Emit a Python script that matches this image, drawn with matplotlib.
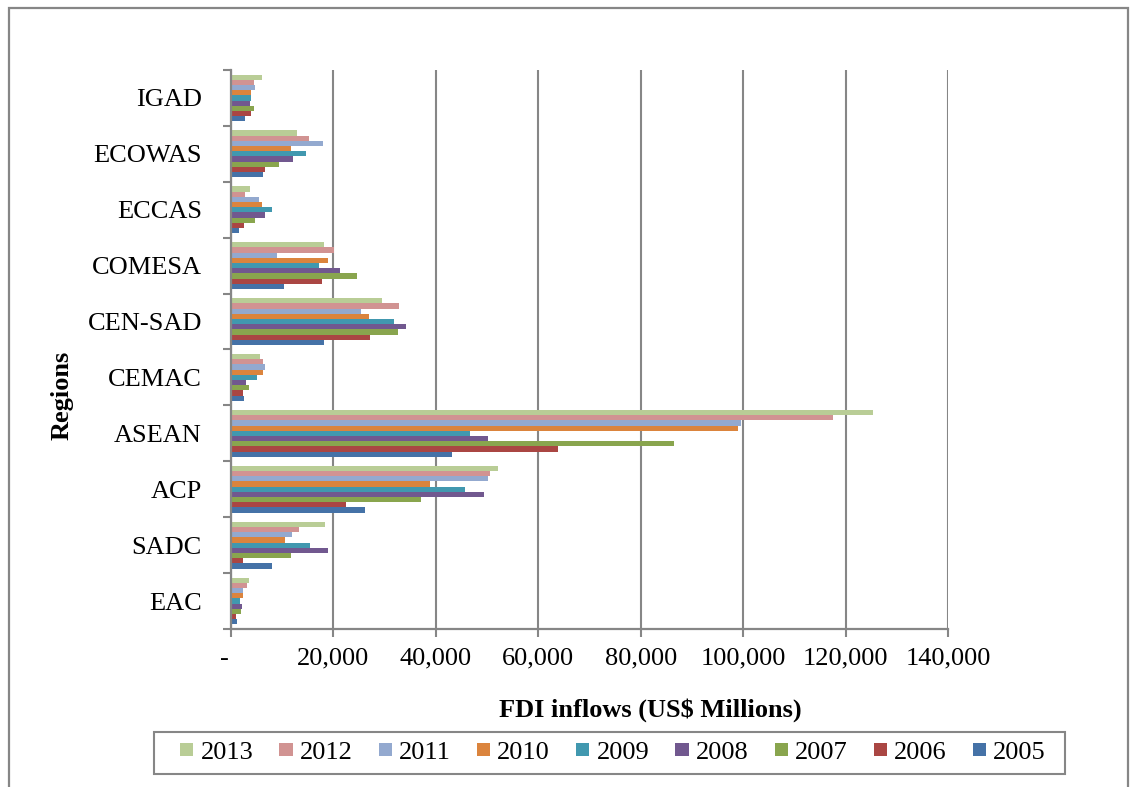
import numpy as np
import matplotlib
matplotlib.use("Agg")
import matplotlib.pyplot as plt
from matplotlib.patches import Rectangle
from matplotlib.ticker import FuncFormatter

plt.rcParams['font.family'] = ['Liberation Serif', 'DejaVu Serif']

# Data (US$ millions), regions from bottom to top
regions = ['EAC', 'SADC', 'ACP', 'ASEAN', 'CEMAC', 'CEN-SAD', 'COMESA', 'ECCAS', 'ECOWAS', 'IGAD']
years = ['2005', '2006', '2007', '2008', '2009', '2010', '2011', '2012', '2013']

fdi_2005 = [1110, 8070, 26170, 43070, 2560, 18170, 10300, 1510, 6230, 2820]
fdi_2006 = [980, 2360, 22430, 63800, 2300, 27220, 17710, 2620, 6560, 3870]
fdi_2007 = [1970, 11800, 37150, 86540, 3540, 32600, 24670, 4660, 9300, 4400]
fdi_2008 = [2160, 19020, 49340, 50210, 2950, 34110, 21250, 6560, 12140, 3800]
fdi_2009 = [1840, 15480, 45770, 46640, 5050, 31820, 17120, 8070, 14700, 3940]
fdi_2010 = [2430, 10630, 38800, 99000, 6230, 27030, 18900, 6040, 11800, 4000]
fdi_2011 = [2430, 11940, 50130, 99520, 6560, 25320, 9050, 5380, 18040, 4660]
fdi_2012 = [3210, 13320, 50480, 117450, 6300, 32730, 20070, 2820, 15150, 4400]
fdi_2013 = [3480, 18370, 52220, 125400, 5710, 29520, 18170, 3740, 12920, 5970]

series = [fdi_2005, fdi_2006, fdi_2007, fdi_2008, fdi_2009,
          fdi_2010, fdi_2011, fdi_2012, fdi_2013]
colors = ['#4572A7', '#AA4643', '#89A54E', '#71588F', '#4198AF',
          '#DB843D', '#93A9CF', '#D19392', '#B9CD96']

gray = '#868686'
fs = 19

fig = plt.figure(figsize=(11.36, 7.87), dpi=100)
ax = fig.add_axes([231 / 1136, 1 - 629 / 787, (948 - 231) / 1136, (629 - 70) / 787])

# outer chart border (bottom edge runs off the picture)
fig.patches.append(Rectangle((9 / 1136, -0.05), (1128 - 9) / 1136, 1.05 - 8 / 787,
                             transform=fig.transFigure, fill=False,
                             edgecolor=gray, linewidth=1.6))

y = np.arange(len(regions))
h = 0.093
bars = []
for i, vals in enumerate(series):
    b = ax.barh(y + (i - 4) * h, vals, height=h, color=colors[i],
                edgecolor='none', zorder=3)
    bars.append(b)

ax.set_xlim(0, 140000)
ax.set_ylim(-0.5, len(regions) - 0.5)
ax.set_xticks(np.arange(0, 140001, 20000))
ax.xaxis.set_major_formatter(FuncFormatter(lambda v, p: '-  ' if v == 0 else f'{int(v):,}'))
ax.grid(axis='x', color=gray, linewidth=1.5, zorder=0)

ax.set_yticks(y)
ax.set_yticklabels(regions)
ax.set_yticks(np.arange(-0.5, len(regions), 1), minor=True)
ax.tick_params(axis='y', which='major', length=0, pad=21, labelsize=fs)
ax.tick_params(axis='y', which='minor', length=5.5, width=1.5, color=gray)
ax.tick_params(axis='x', length=5.5, width=1.5, color=gray, pad=8, labelsize=fs)

for s in ['top', 'right']:
    ax.spines[s].set_visible(False)
for s in ['left', 'bottom']:
    ax.spines[s].set_color(gray)
    ax.spines[s].set_linewidth(1.6)
    ax.spines[s].set_zorder(4)

fig.text(650 / 1136, 1 - 710 / 787, 'FDI inflows (US$ Millions)', ha='center', va='center',
         fontsize=fs, fontweight='bold')
fig.text(62 / 1136, 1 - 395 / 787, 'Regions', ha='center', va='center', rotation=90,
         fontsize=fs, fontweight='bold')

# legend box drawn separately so its padding matches
fig.patches.append(Rectangle((154 / 1136, 1 - 774 / 787), (1065 - 154) / 1136, 42 / 787,
                             transform=fig.transFigure, fill=False,
                             edgecolor=gray, linewidth=1.5))
leg = fig.legend(bars[::-1], years[::-1], loc='center', ncol=9,
                 bbox_to_anchor=(613 / 1136, 1 - 753 / 787),
                 fontsize=fs, frameon=False,
                 handlelength=0.5, handleheight=0.4, handletextpad=0.27,
                 columnspacing=0.99, borderpad=0.2, borderaxespad=0)

fig.savefig('out.png', dpi=100)
